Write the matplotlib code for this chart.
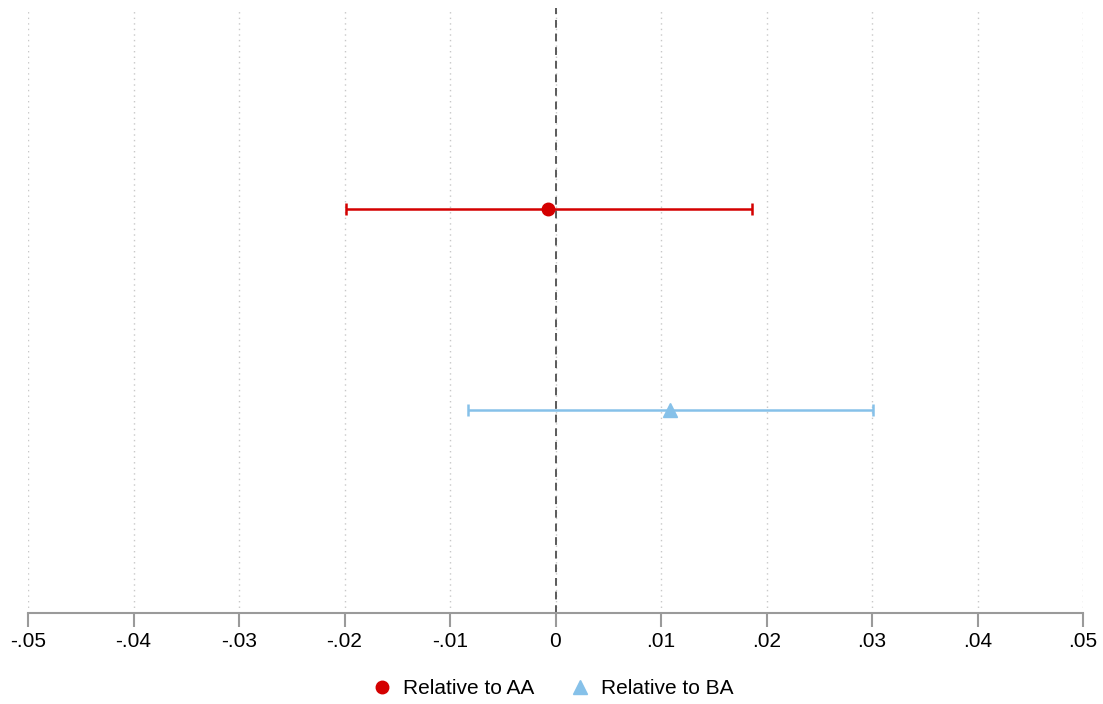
import matplotlib.pyplot as plt
import numpy as np

plt.rcParams['font.family'] = ['Liberation Sans', 'DejaVu Sans']

# coefficient estimates and confidence intervals
labels = ['Relative to AA', 'Relative to BA']
est = [-0.0007, 0.0109]
lo = [-0.0199, -0.0083]
hi = [0.0186, 0.0301]
ypos = [2, 1]
colors = ['#d40000', '#86c1e9']
markers = ['o', '^']

xticks = [-0.05, -0.04, -0.03, -0.02, -0.01, 0, 0.01, 0.02, 0.03, 0.04, 0.05]
xticklabels = ['-.05', '-.04', '-.03', '-.02', '-.01', '0', '.01', '.02', '.03', '.04', '.05']

fig = plt.figure(figsize=(11.03, 7.04), dpi=100)
ax = fig.add_axes([28 / 1103, 1 - 613 / 704, (1083 - 28) / 1103, (613 - 8) / 704])

for x in xticks:
    ax.axvline(x, color='#c8c8c8', lw=1, ls=(0, (1, 3)), zorder=0)
ax.axvline(0, color='#5a5a5a', lw=1.4, ls=(0, (4, 3)), zorder=1)

for i in range(len(est)):
    err = np.array([[est[i] - lo[i]], [hi[i] - est[i]]])
    ax.errorbar([est[i]], [ypos[i]], xerr=err, fmt='none', ecolor=colors[i],
                elinewidth=1.8, capsize=4.5, capthick=1.8, zorder=2)
    ax.plot([est[i]], [ypos[i]], marker=markers[i], color=colors[i], ls='none',
            markersize=9 if markers[i] == 'o' else 10, label=labels[i], zorder=3)

ax.set_xlim(-0.05, 0.05)
ax.set_ylim(-0.01, 3.0)
ax.set_xticks(xticks)
ax.set_xticklabels(xticklabels, fontsize=15)
ax.set_yticks([])
for s in ['top', 'right', 'left']:
    ax.spines[s].set_visible(False)
ax.spines['bottom'].set_color('#9a9a9a')
ax.spines['bottom'].set_linewidth(1.5)
ax.tick_params(axis='x', length=10, width=1.5, color='#9a9a9a', pad=4)

fig.legend(loc='lower center', bbox_to_anchor=(0.5, -0.018), ncol=2, frameon=False,
           fontsize=15, handletextpad=0.4, columnspacing=1.6, handlelength=1.2)

fig.savefig('out.png', dpi=100)
